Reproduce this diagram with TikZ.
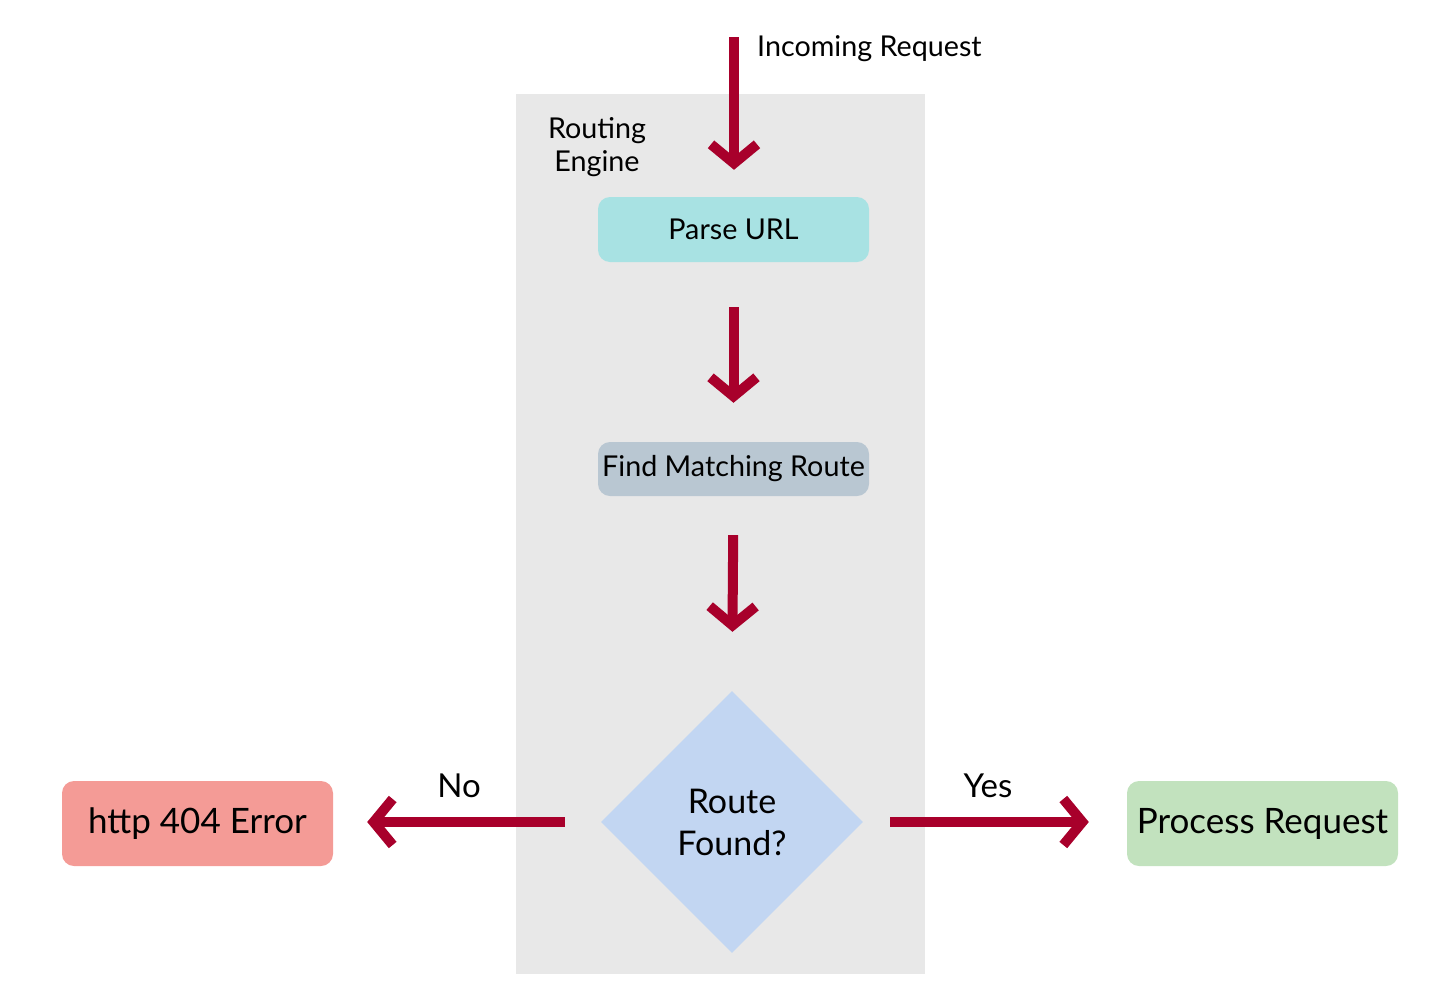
\documentclass[tikz,border=0pt]{standalone}
\usepackage{fontspec}
\setmainfont{Lato}
\usetikzlibrary{shapes.geometric,arrows.meta}
\definecolor{arrowred}{HTML}{A8002B}
\definecolor{panelgray}{HTML}{E8E8E8}
\definecolor{parsecol}{HTML}{A8E2E3}
\definecolor{findcol}{HTML}{B9C7D2}
\definecolor{diamcol}{HTML}{C2D6F2}
\definecolor{errcol}{HTML}{F49B96}
\definecolor{okcol}{HTML}{C2E2BE}
\tikzset{
  procbox/.style={rounded corners=12pt, inner sep=0pt, minimum width=271pt, font=\fontsize{28.7}{34}\selectfont},
  bigtext/.style={font=\fontsize{35}{42}\selectfont},
  flow/.style={draw=arrowred, line width=10pt, -{Straight Barb[length=19pt,width=46pt]}},
  lbl/.style={font=\fontsize{28.7}{33}\selectfont, inner sep=0pt},
}
\begin{document}
\begin{tikzpicture}[x=1pt,y=-1pt]
\useasboundingbox (0,0) rectangle (1446,1002);
\fill[panelgray] (516,94) rectangle (925,974);
\node[lbl, align=center] (eng) at (597,147) {Routing\\Engine};
\node[procbox, fill=parsecol, minimum height=65pt] (parse) at (733.5,229.5) {Parse URL};
\node[procbox, fill=findcol, minimum height=54pt] (find) at (733.5,469) {Find Matching Route};
\node[diamond, fill=diamcol, minimum width=262pt, minimum height=262pt, inner sep=0pt, align=center, font=\fontsize{34}{42}\selectfont] (dec) at (732,822) {Route\\Found?};
\node[procbox, fill=errcol, minimum height=85pt, bigtext] (err) at (197.5,823.5) {http 404 Error};
\node[procbox, fill=okcol, minimum height=85pt, bigtext] (ok) at (1262.5,823.5) {Process Request};
\coordinate (in) at (734,37);
\node[lbl, anchor=west] (inlbl) at (757,49) {Incoming Request};
\draw[flow, shorten >=27pt] (in) -- (parse.north -| in);
\draw[flow, shorten <=45pt, shorten >=39pt] (parse.south) -- (find.north);
\draw[flow, shorten <=39pt, shorten >=59pt] (find.south) -- (dec.north);
\draw[flow, shorten <=36pt, shorten >=34pt] (dec.west) -- (err.east |- dec.west);
\draw[flow, shorten <=27pt, shorten >=38pt] (dec.east) -- (ok.west |- dec.east);
\node[lbl, font=\fontsize{33}{38}\selectfont] (no) at (459,786) {No};
\node[lbl, font=\fontsize{33}{38}\selectfont] (yes) at (988,786) {Yes};
\end{tikzpicture}
\end{document}
